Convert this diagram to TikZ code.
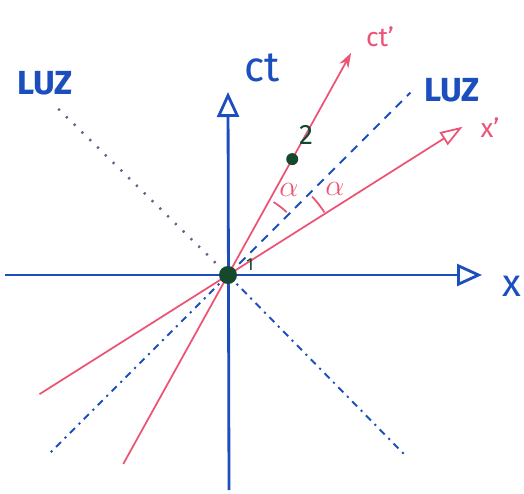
\documentclass[tikz,border=0pt]{standalone}
\usepackage{fontspec}
\setmainfont{Fira Sans}
\usetikzlibrary{arrows.meta}

\definecolor{azul}{RGB}{28,78,190}
\definecolor{rosa}{RGB}{236,84,118}
\definecolor{verde}{RGB}{22,72,46}
\definecolor{gris}{RGB}{95,100,135}

\tikzset{
  eje/.style={azul, line width=1.6pt, -{Triangle[open,length=5mm,width=4.4mm,line width=1.6pt]}},
  prima/.style={rosa, line width=1pt},
  luz/.style={azul, line width=1.1pt, dash pattern=on 5pt off 4pt},
  luzpunto/.style={gris, line width=1.4pt, dash pattern=on 1.2pt off 5pt},
  etiq/.style={azul, font=\fontsize{19}{19}\selectfont\bfseries}
}

\begin{document}
\begin{tikzpicture}
    \useasboundingbox (-4.56,-4.36) rectangle (5.92,5.50);

    % puntos
    \coordinate (O) at (0,0);
    \coordinate (Xi) at (-4.46,0);
    \coordinate (Xf) at (5.08,0);
    \coordinate (Ti) at (0.02,-4.30);
    \coordinate (Tf) at (0,3.66);
    \coordinate (Pi) at (241:4.32);
    \coordinate (Pf) at (61:5.08);
    \coordinate (Qi) at (212.3:4.46);
    \coordinate (Qf) at (32.3:5.55);
    \coordinate (Li) at (225:5.09);
    \coordinate (Lf) at (45:5.16);
    \coordinate (Mi) at (135.6:4.75);
    \coordinate (Mf) at (314.5:5.05);
    \coordinate (P2) at (61:2.65);

    % rayos de luz
    \draw[luz] (O) -- (Lf);
    \draw[luz, dash pattern=on 4pt off 3pt on 1.2pt off 3pt] (O) -- (Li);
    \draw[luzpunto] (Mi) -- (O);
    \draw[luz, dash pattern=on 4pt off 3pt on 1.2pt off 3pt] (O) -- (Mf);

    % ejes primados
    \draw[prima] (Qi) -- (O);
    \draw[prima, -{Triangle[open,length=4.5mm,width=3mm,line width=1pt]}] (O) -- (Qf);
    \draw[prima] (Pi) -- (O);
    \draw[prima, -{Stealth[length=3mm,width=2mm]}] (O) -- (Pf);

    % ejes
    \draw[eje] (Xi) -- (Xf);
    \draw[eje] (Ti) -- (Tf);

    % angulos alfa
    \draw[rosa, line width=1pt] (47:1.72) arc[start angle=47,end angle=58,radius=1.72];
    \draw[rosa, line width=1pt] (33:2.3) arc[start angle=33,end angle=43,radius=2.3];
    \node[rosa, font=\fontsize{16}{16}\selectfont] (a1) at (1.22,1.70) {$\alpha$};
    \node[rosa, font=\fontsize{16}{16}\selectfont] (a2) at (2.14,1.72) {$\alpha$};

    % sucesos
    \fill[verde] (O) circle (0.18);
    \fill[verde] (P2) circle (0.12);
    \node[verde, font=\fontsize{16}{16}\selectfont] (n2) at (1.56,2.8) {2};
    \node[verde, font=\fontsize{10}{10}\selectfont] (n1) at (0.44,0.2) {1};

    % etiquetas
    \node[azul, font=\fontsize{24}{24}\selectfont] (ct) at (0.68,4.14) {ct};
    \node[azul, font=\fontsize{22}{22}\selectfont] (x) at (5.68,-0.22) {x};
    \node[rosa, font=\fontsize{15}{15}\selectfont] (ctp) at (3.04,4.76) {ct'};
    \node[rosa, font=\fontsize{15}{15}\selectfont] (xp) at (5.24,2.94) {x'};
    \node[etiq] (luz1) at (-3.66,3.84) {LUZ};
    \node[etiq] (luz2) at (4.48,3.70) {LUZ};
\end{tikzpicture}
\end{document}
